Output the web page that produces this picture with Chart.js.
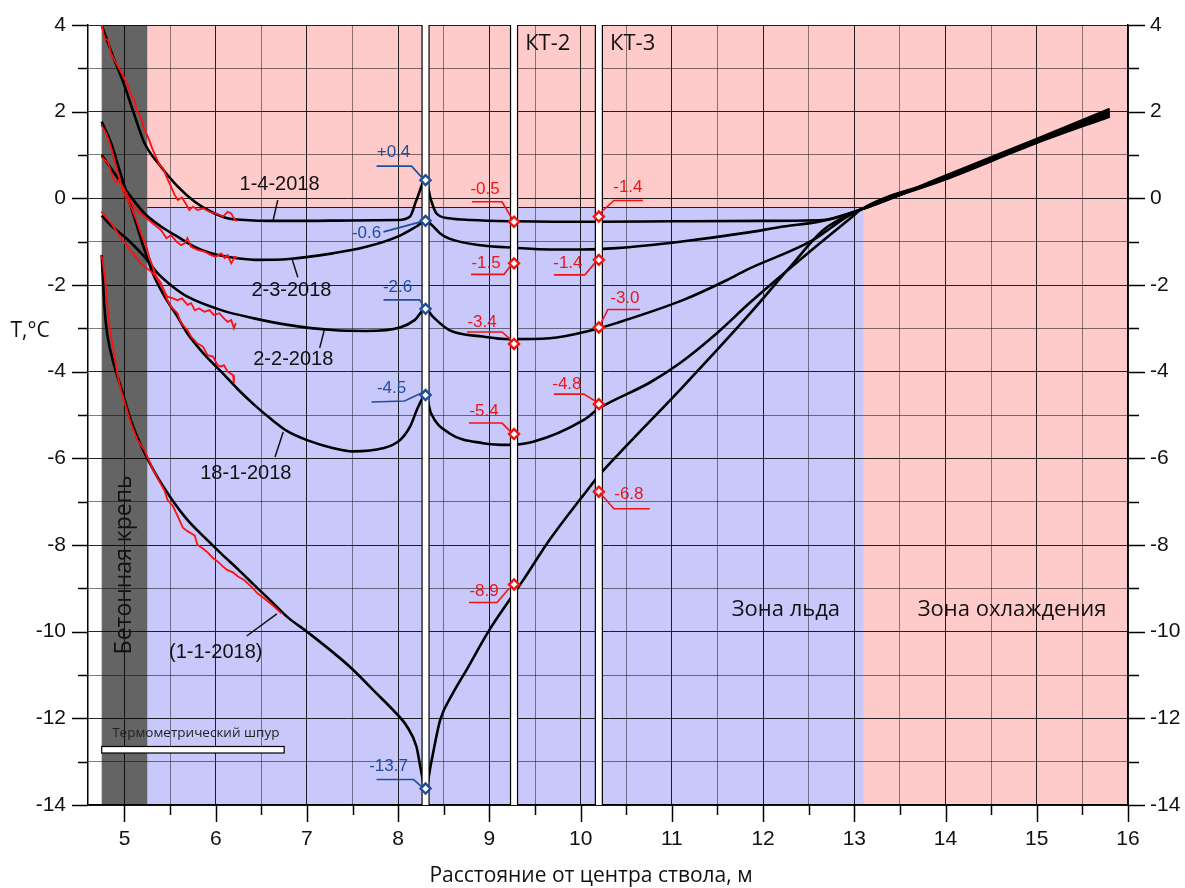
<!DOCTYPE html>
<html><head><meta charset="utf-8">
<script src="https://cdn.jsdelivr.net/npm/chart.js@4.4.0/dist/chart.umd.min.js"></script>
<style>html,body{margin:0;padding:0;background:#fff;}</style>
</head><body>
<canvas id="c" width="1185" height="888"></canvas>
<script>
// ---------------- DATA ----------------
// Model curves (distance, m ; temperature, °C)
const x_0104 = [4.75,4.87,5.0,5.09,5.22,5.40,5.585,5.77,5.95,6.13,6.32,6.6,7.0,7.5,8.0,8.13,8.2,8.3,8.36,8.42,8.56,8.8,9.27,9.7,10.2,11.0,12.0,12.66,13.07,14.0,15.0,15.8];
const t_0104 = [4.0,3.3,2.6,2.04,1.27,0.73,0.27,-0.08,-0.31,-0.46,-0.5,-0.52,-0.52,-0.51,-0.5,-0.42,-0.04,0.42,-0.04,-0.35,-0.46,-0.5,-0.53,-0.54,-0.54,-0.53,-0.52,-0.5,-0.26,0.52,1.37,2.06];

const x_0203 = [4.75,4.89,5.04,5.22,5.40,5.585,5.77,5.95,6.13,6.43,6.8,7.28,7.65,8.02,8.2,8.3,8.35,8.46,8.56,8.93,9.27,9.66,10.02,10.39,11.09,11.86,12.22,12.55,12.7,13.07,14.0,15.0,15.8];
const t_0203 = [1.0,0.58,0.12,-0.35,-0.65,-0.89,-1.12,-1.27,-1.35,-1.42,-1.40,-1.27,-1.12,-0.86,-0.65,-0.52,-0.58,-0.81,-0.93,-1.09,-1.14,-1.18,-1.18,-1.15,-1.0,-0.78,-0.65,-0.56,-0.5,-0.26,0.5,1.34,2.01];

const x_0202 = [4.75,4.85,5.04,5.22,5.36,5.53,5.69,6.06,6.42,6.79,7.28,7.65,8.02,8.18,8.3,8.38,8.56,8.93,9.22,9.66,10.13,10.39,11.12,11.6,11.82,12.55,12.92,13.07,14.0,15.0,15.8];
const t_0202 = [-0.4,-0.62,-0.96,-1.35,-1.72,-2.04,-2.27,-2.58,-2.77,-2.92,-3.04,-3.06,-2.98,-2.81,-2.55,-2.73,-3.04,-3.19,-3.25,-3.23,-3.04,-2.88,-2.35,-1.89,-1.65,-0.96,-0.42,-0.26,0.48,1.32,1.97];

const x_1801 = [4.75,4.854,4.945,5.037,5.128,5.22,5.31,5.44,5.58,5.69,5.875,6.06,6.24,6.42,6.61,6.79,7.0,7.28,7.5,7.83,8.02,8.13,8.22,8.3,8.36,8.56,8.93,9.22,9.48,10.03,10.2,10.76,11.09,11.5,11.86,12.5,12.98,13.07,14.0,15.0,15.8];
const t_1801 = [1.77,1.27,0.65,0.04,-0.58,-1.19,-1.73,-2.27,-2.73,-3.12,-3.6,-4.0,-4.4,-4.76,-5.1,-5.38,-5.58,-5.76,-5.84,-5.77,-5.58,-5.27,-4.81,-4.54,-4.96,-5.42,-5.65,-5.69,-5.62,-5.12,-4.85,-4.25,-3.8,-3.1,-2.4,-1.25,-0.42,-0.26,0.46,1.30,1.93];

const x_0101 = [4.75,4.76,4.78,4.81,4.89,4.96,5.07,5.18,5.33,5.51,5.69,5.875,6.06,6.24,6.42,6.61,6.79,7.0,7.47,7.76,7.94,8.1,8.2,8.25,8.3,8.36,8.46,8.6,8.75,9.0,9.22,9.37,9.66,10.03,10.2,10.39,11.12,11.86,12.31,12.66,13.07,14.0,15.0,15.8];
const t_0101 = [-1.31,-1.73,-2.5,-3.12,-3.88,-4.35,-5.12,-5.7,-6.32,-6.92,-7.42,-7.82,-8.2,-8.55,-8.92,-9.3,-9.67,-10.0,-10.81,-11.42,-11.8,-12.2,-12.65,-13.2,-13.65,-13.04,-12.04,-11.42,-10.88,-9.96,-9.27,-8.81,-7.88,-6.85,-6.4,-5.96,-4.35,-2.65,-1.55,-0.73,-0.26,0.44,1.28,1.89];

// Measured (thermometric hole) curves
const xm_0104 = [4.75,4.78,4.82,4.85,4.89,4.93,4.96,5.0,5.04,5.07,5.11,5.13,5.17,5.22,5.26,5.31,5.385,5.42,5.46,5.51,5.55,5.585,5.63,5.68,5.71,5.75,5.80,5.86,5.93,6.0,6.08,6.13,6.17,6.21,6.24];
const tm_0104 = [4.02,3.69,3.65,3.35,3.19,3.04,2.92,2.77,2.58,2.38,2.27,2.04,1.92,1.58,1.4,1.12,0.77,0.7,0.5,0.27,0.08,-0.04,0.02,-0.15,-0.27,-0.19,-0.27,-0.23,-0.31,-0.35,-0.42,-0.31,-0.35,-0.5,-0.52];

const xm_0203 = [4.745,4.82,4.87,4.91,4.94,4.99,5.06,5.13,5.22,5.31,5.40,5.46,5.51,5.57,5.62,5.66,5.69,5.73,5.80,5.88,5.95,6.0,6.06,6.10,6.13,6.17,6.21,6.24];
const tm_0203 = [0.96,0.81,0.5,0.35,0.42,0.23,-0.04,-0.27,-0.42,-0.58,-0.73,-0.92,-0.85,-1.0,-1.08,-1.04,-0.92,-1.12,-1.19,-1.23,-1.31,-1.35,-1.27,-1.38,-1.31,-1.5,-1.35,-1.37];

const xm_0202 = [4.745,4.79,4.84,4.89,4.94,4.99,5.04,5.07,5.11,5.16,5.22,5.27,5.33,5.40,5.47,5.53,5.58,5.63,5.69,5.73,5.77,5.82,5.875,5.93,5.98,6.04,6.09,6.13,6.17,6.2,6.22];
const tm_0202 = [-0.31,-0.42,-0.54,-0.69,-0.85,-1.0,-1.12,-1.23,-1.31,-1.46,-1.58,-1.65,-1.77,-2.0,-2.27,-2.31,-2.35,-2.31,-2.46,-2.42,-2.58,-2.54,-2.62,-2.58,-2.69,-2.65,-2.77,-2.85,-2.81,-3.0,-2.88];

const xm_1801 = [4.745,4.80,4.85,4.89,4.92,4.96,4.99,5.04,5.07,5.13,5.18,5.24,5.27,5.31,5.35,5.40,5.47,5.51,5.58,5.62,5.69,5.73,5.80,5.86,5.91,5.97,6.02,6.06,6.09,6.13,6.19,6.2];
const tm_1801 = [1.69,1.5,1.19,0.88,0.62,0.35,0.12,-0.04,-0.19,-0.5,-0.81,-1.12,-1.35,-1.58,-1.81,-1.95,-2.35,-2.5,-2.65,-2.88,-3.04,-3.19,-3.35,-3.42,-3.62,-3.65,-3.85,-3.88,-3.85,-4.0,-4.08,-4.27];

const xm_0101 = [4.74,4.76,4.80,4.83,4.89,4.92,4.96,5.015,5.07,5.14,5.22,5.25,5.31,5.36,5.44,5.47,5.53,5.58,5.64,5.69,5.77,5.80,5.86,5.91,5.97,6.02,6.08,6.13,6.19,6.24,6.31,6.39,6.46,6.53,6.64,6.72];
const tm_0101 = [-1.31,-1.42,-2.12,-2.88,-3.65,-4.04,-4.42,-4.81,-5.19,-5.58,-5.81,-5.96,-6.25,-6.45,-6.75,-6.95,-7.1,-7.32,-7.6,-7.68,-7.78,-8.0,-8.08,-8.17,-8.3,-8.38,-8.5,-8.58,-8.63,-8.72,-8.81,-8.96,-9.12,-9.23,-9.42,-9.58];

// Measured points at the boreholes
const ptX     = [8.3,8.3,8.3,8.3,8.3, 9.27,9.27,9.27,9.27,9.27, 10.2,10.2,10.2,10.2,10.2];
const ptT     = [0.42,-0.52,-2.55,-4.54,-13.62, -0.54,-1.5,-3.36,-5.44,-8.91, -0.42,-1.42,-2.98,-4.75,-6.77];
const ptLabel = ['+0.4','-0.6','-2.6','-4.5','-13.7', '-0.5','-1.5','-3.4','-5.4','-8.9', '-1.4','-1.4','-3.0','-4.8','-6.8'];
const ptGroup = ['b','b','b','b','b', 'r','r','r','r','r', 'r','r','r','r','r'];

const curveNames = ['1-4-2018','2-3-2018','2-2-2018','18-1-2018','(1-1-2018)'];
const xTicks = [5,5.5,6,6.5,7,7.5,8,8.5,9,9.5,10,10.5,11,11.5,12,12.5,13,13.5,14,14.5,15,15.5,16];
const yTicks = [-14,-13,-12,-11,-10,-9,-8,-7,-6,-5,-4,-3,-2,-1,0,1,2,3,4];
const boreholes = [8.3, 9.27, 10.2];
const boreholeNames = ['КТ-2','КТ-3'];
const liningZone = [4.75, 5.25];   // concrete lining, m
const iceZone = [5.25, 13.1];      // ice zone, m
const iceTop = -0.2;               // °C
const holeRange = [4.75, 6.75];    // thermometric hole, m

// ---------------- STYLE / LAYOUT ----------------
const PINK = '#ffcaca', BLUE = '#c8c8fb', LINING = '#646464';
const CBLUE = '#1f4e9c', CRED = '#f01515';
const ARIAL = '"Liberation Sans", Arial, sans-serif';
const SANS = '"Open Sans", "Noto Sans", sans-serif';

// marker label layout: text offset, leader polyline (pixels relative to marker)
const ptLayout = [
  {t:[-32,-28], p:[[-49,-14],[-14,-14],[-4,-3]]},
  {t:[-59,12],  p:[[-42,11],[-5,1]]},
  {t:[-28,-22], p:[[-42,-9],[-6,-9],[-2,-3]]},
  {t:[-34,-7],  p:[[-54,7],[-21,6],[-4,-2]]},
  {t:[-37,-22], p:[[-49,-9],[-12,-9],[-4,-2]]},
  {t:[-29,-32], p:[[-42,-20],[-12,-20],[-2,-3]]},
  {t:[-28,0],   p:[[-43,11],[-10,11],[-3,2]]},
  {t:[-32,-22], p:[[-47,-12],[-12,-12],[-3,-4]]},
  {t:[-30,-23], p:[[-45,-11],[-12,-11],[-3,-2]]},
  {t:[-30,7],   p:[[-45,18],[-17,18],[-5,4]]},
  {t:[29,-29],  p:[[2,-4],[15,-16],[44,-16]]},
  {t:[-31,3.5], p:[[-45,15],[-14,15],[-3,2]]},
  {t:[26,-29],  p:[[1,-2],[9,-18],[41,-18]]},
  {t:[-32,-20], p:[[-45,-10],[-15,-10],[-2,-2]]},
  {t:[30,3],    p:[[1,1],[15,17],[51,17]]}
];
// curve label layout in data coordinates: text centre, leader line
const curveLabelLayout = [
  {c:[6.70,0.31],  l:[[6.68,-0.04],[6.63,-0.50]]},
  {c:[6.83,-2.12], l:[[6.90,-1.82],[6.84,-1.42]]},
  {c:[6.85,-3.73], l:[[7.14,-3.45],[7.19,-3.04]]},
  {c:[6.33,-6.34], l:[[6.65,-5.97],[6.74,-5.39]]},
  {c:[6.00,-10.47],l:[[6.34,-10.10],[6.67,-9.59]]}
];

const pts = (xs, ys) => xs.map((v, i) => ({x: v, y: ys[i]}));
const black = (xs, ys) => ({data: pts(xs, ys), showLine: true, borderColor: '#000', borderWidth: 2.6,
  pointRadius: 0, cubicInterpolationMode: 'monotone', order: 3});
const red = (xs, ys) => ({data: pts(xs, ys), showLine: true, borderColor: '#ff1010', borderWidth: 1.8,
  pointRadius: 0, tension: 0, order: 2});

const datasets = [
  black(x_0104, t_0104), black(x_0203, t_0203), black(x_0202, t_0202), black(x_1801, t_1801), black(x_0101, t_0101),
  red(xm_0104, tm_0104), red(xm_0203, tm_0203), red(xm_0202, tm_0202), red(xm_1801, tm_1801), red(xm_0101, tm_0101),
  {data: pts(ptX, ptT), showLine: false, pointStyle: 'rectRot', pointRadius: 5, pointBorderWidth: 2.4,
   pointBackgroundColor: '#fff', pointBorderColor: ptGroup.map(g => g === 'b' ? CBLUE : CRED), order: 1}
];
const MARKER_INDEX = datasets.length - 1;

function line(ctx, pts) {
  ctx.beginPath(); ctx.moveTo(pts[0][0], pts[0][1]);
  for (let i = 1; i < pts.length; i++) ctx.lineTo(pts[i][0], pts[i][1]);
  ctx.stroke();
}
function zeroPad(s) { s.paddingTop = 0; s.paddingBottom = 0; s.paddingLeft = 0; s.paddingRight = 0; }

const drawPlugin = {
  id: 'drawPlugin',
  beforeDraw(chart) {
    const {ctx, chartArea: a, scales: {x, y}} = chart;
    ctx.save();
    ctx.fillStyle = '#fff'; ctx.fillRect(0, 0, chart.width, chart.height);
    const xl0 = x.getPixelForValue(liningZone[0]), xl1 = x.getPixelForValue(liningZone[1]);
    ctx.fillStyle = PINK; ctx.fillRect(xl1, a.top, a.right - xl1, a.bottom - a.top);
    const xi1 = x.getPixelForValue(iceZone[1]), yt = y.getPixelForValue(iceTop);
    ctx.fillStyle = BLUE; ctx.fillRect(xl1, yt, xi1 - xl1, a.bottom - yt);
    ctx.fillStyle = LINING; ctx.fillRect(xl0, a.top, xl1 - xl0, a.bottom - a.top);
    ctx.restore();
  },
  beforeDatasetsDraw(chart) {
    const {ctx, scales: {x, y}} = chart;
    ctx.save();
    ctx.strokeStyle = 'rgba(0,0,0,0.85)'; ctx.lineWidth = 1;
    const yt = Math.round(y.getPixelForValue(iceTop)) + 0.5;
    line(ctx, [[x.getPixelForValue(iceZone[0]), yt], [x.getPixelForValue(iceZone[1]), yt]]);
    ctx.restore();
  },
  beforeDatasetDraw(chart, args) {
    if (args.index !== MARKER_INDEX) return;
    const {ctx, chartArea: a, scales: {x}} = chart;
    ctx.save();
    boreholes.forEach(b => {
      const p = x.getPixelForValue(b);
      ctx.fillStyle = '#fff'; ctx.fillRect(p - 3.5, a.top, 7, a.bottom - a.top);
      ctx.strokeStyle = '#000'; ctx.lineWidth = 1.2;
      line(ctx, [[p - 3.5, a.top], [p - 3.5, a.bottom]]);
      line(ctx, [[p + 3.5, a.top], [p + 3.5, a.bottom]]);
    });
    ctx.restore();
  },
  afterDraw(chart) {
    const {ctx, chartArea: a, scales: {x, y}} = chart;
    const P = (vx, vy) => [x.getPixelForValue(vx), y.getPixelForValue(vy)];
    ctx.save();
    // tick marks
    ctx.strokeStyle = '#000'; ctx.lineWidth = 1.5;
    yTicks.forEach(v => {
      const p = Math.round(y.getPixelForValue(v)) + 0.5, maj = (v % 2 === 0);
      line(ctx, [[a.left, p], [a.left - (maj ? 16 : 10), p]]);
      line(ctx, [[a.right, p], [a.right + (maj ? 17 : 11), p]]);
    });
    xTicks.forEach(v => {
      const p = Math.round(x.getPixelForValue(v)) + 0.5, maj = Number.isInteger(v);
      line(ctx, [[p, a.bottom], [p, a.bottom + (maj ? 17 : 10)]]);
    });
    // thermometric hole
    const h0 = P(holeRange[0], -12.65), h1 = P(holeRange[1], -12.8);
    ctx.fillStyle = '#fff'; ctx.fillRect(h0[0], h0[1], h1[0] - h0[0], h1[1] - h0[1]);
    ctx.strokeStyle = '#000'; ctx.lineWidth = 1.2; ctx.strokeRect(h0[0], h0[1], h1[0] - h0[0], h1[1] - h0[1]);
    ctx.fillStyle = '#222'; ctx.font = '13.5px ' + SANS; ctx.textAlign = 'left'; ctx.textBaseline = 'middle';
    const ht = P(4.865, -12.34); ctx.fillText('Термометрический шпур', ht[0], ht[1]);
    // marker labels
    ctx.font = '17px ' + ARIAL; ctx.textAlign = 'center'; ctx.textBaseline = 'middle';
    ptX.forEach((vx, i) => {
      const [mx, my] = P(vx, ptT[i]); const L = ptLayout[i];
      const col = ptGroup[i] === 'b' ? CBLUE : CRED;
      ctx.strokeStyle = col; ctx.fillStyle = col; ctx.lineWidth = 1.6;
      line(ctx, L.p.map(q => [mx + q[0], my + q[1]]));
      ctx.fillText(ptLabel[i], mx + L.t[0], my + L.t[1]);
    });
    // curve labels
    ctx.font = '20px ' + ARIAL; ctx.fillStyle = '#111'; ctx.strokeStyle = '#111'; ctx.lineWidth = 1.5;
    curveNames.forEach((n, i) => {
      const L = curveLabelLayout[i]; const c = P(L.c[0], L.c[1]);
      line(ctx, L.l.map(q => P(q[0], q[1])));
      ctx.fillText(n, c[0], c[1]);
    });
    // zone texts
    ctx.font = '22px ' + SANS; ctx.fillStyle = '#111';
    let q = P(9.64, 3.57); ctx.fillText(boreholeNames[0], q[0], q[1]);
    q = P(10.57, 3.57); ctx.fillText(boreholeNames[1], q[0], q[1]);
    q = P(12.25, -9.5); ctx.fillText('Зона льда', q[0], q[1]);
    q = P(14.73, -9.5); ctx.fillText('Зона охлаждения', q[0], q[1]);
    q = P(5.0, -8.46);
    ctx.save(); ctx.translate(q[0], q[1]); ctx.rotate(-Math.PI / 2);
    ctx.font = '23px ' + SANS; ctx.fillText('Бетонная крепь', 0, 0); ctx.restore();
    // axis titles
    ctx.font = '21px ' + SANS; ctx.fillStyle = '#111';
    ctx.fillText('Т,°C', 30, 331);
    ctx.fillText('Расстояние от центра ствола, м', 591, 876);
    ctx.restore();
  }
};

const tickFont = {family: ARIAL, size: 21};
new Chart(document.getElementById('c'), {
  type: 'scatter',
  data: {datasets},
  options: {
    responsive: false, animation: false, devicePixelRatio: 1,
    layout: {padding: {top: 25, left: 0, right: 0, bottom: 0}},
    plugins: {legend: {display: false}, tooltip: {enabled: false}},
    scales: {
      x: {type: 'linear', min: 4.6, max: 16,
        afterBuildTicks(s) { s.ticks = xTicks.map(v => ({value: v})); },
        afterFit(s) { s.height = 83; zeroPad(s); },
        grid: {drawTicks: false, lineWidth: 1,
          color: c => Number.isInteger(c.tick.value) ? 'rgba(0,0,0,0.85)' : 'rgba(0,0,0,0.45)'},
        border: {display: true, color: '#000', width: 1.5},
        ticks: {autoSkip: false, maxRotation: 0, padding: 22, color: '#111', font: tickFont,
          callback: v => Number.isInteger(v) ? String(v) : ''}
      },
      y: {type: 'linear', position: 'left', min: -14, max: 4,
        afterBuildTicks(s) { s.ticks = yTicks.map(v => ({value: v})); },
        afterFit(s) { s.width = 88; zeroPad(s); },
        grid: {drawTicks: false, lineWidth: 1,
          color: c => (c.tick.value % 2 === 0) ? 'rgba(0,0,0,0.85)' : 'rgba(0,0,0,0.5)'},
        border: {display: true, color: '#000', width: 1.5},
        ticks: {autoSkip: false, padding: 22, color: '#111', font: tickFont,
          callback: v => (v % 2 === 0) ? String(v) : ''}
      },
      y2: {type: 'linear', position: 'right', min: -14, max: 4,
        afterBuildTicks(s) { s.ticks = yTicks.map(v => ({value: v})); },
        afterFit(s) { s.width = 57; zeroPad(s); },
        grid: {drawTicks: false, drawOnChartArea: false},
        border: {display: true, color: '#000', width: 1.5},
        ticks: {autoSkip: false, padding: 22, color: '#111', font: tickFont,
          callback: v => (v % 2 === 0) ? String(v) : ''}
      }
    }
  },
  plugins: [drawPlugin]
});
</script>
</body></html>
